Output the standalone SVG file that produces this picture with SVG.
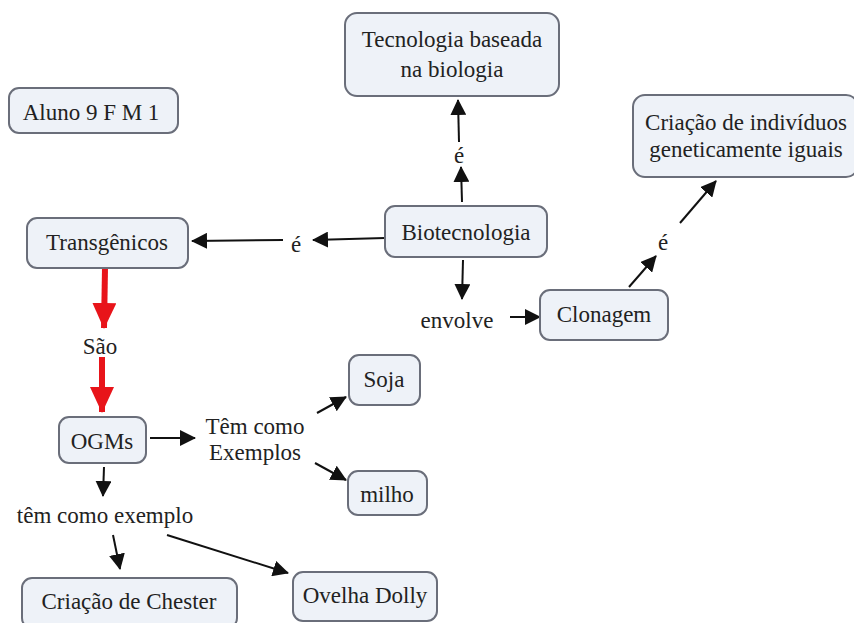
<svg xmlns="http://www.w3.org/2000/svg" width="854" height="623" viewBox="0 0 854 623">
<defs>
<style>
.box{fill:#eef2f8;stroke:#6a6e7a;stroke-width:2}
.t{font-family:Liberation Serif, DejaVu Serif, serif;font-size:23px;fill:#222;text-anchor:middle}
.ln{stroke:#111;stroke-width:2;fill:none}
.red{stroke:#e8141a;stroke-width:6;fill:none}
</style>
<marker id="ahb" viewBox="0 0 16 16" refX="15" refY="8" markerWidth="16" markerHeight="16" orient="auto" markerUnits="userSpaceOnUse">
<path d="M0,0 L16,8 L0,16 z" fill="#111"/>
</marker>
<marker id="ahr" viewBox="0 0 26 24" refX="25" refY="12" markerWidth="26" markerHeight="24" orient="auto" markerUnits="userSpaceOnUse">
<path d="M0,0 L26,12 L0,24 z" fill="#e8141a"/>
</marker>
</defs>
<rect width="854" height="623" fill="#fff"/>

<g id="connectors">
<line class="ln" x1="385" y1="238" x2="313" y2="240" marker-end="url(#ahb)"/>
<line class="ln" x1="283" y1="240" x2="192" y2="241" marker-end="url(#ahb)"/>
<line class="ln" x1="462" y1="202" x2="461" y2="167" marker-end="url(#ahb)"/>
<line class="ln" x1="459" y1="142" x2="458" y2="100" marker-end="url(#ahb)"/>
<line class="ln" x1="463" y1="260" x2="462" y2="299" marker-end="url(#ahb)"/>
<line class="ln" x1="510" y1="317" x2="540" y2="317" marker-end="url(#ahb)"/>
<line class="ln" x1="629" y1="287" x2="656" y2="256" marker-end="url(#ahb)"/>
<line class="ln" x1="680" y1="223" x2="716" y2="181" marker-end="url(#ahb)"/>
<line class="red" x1="105" y1="268" x2="104" y2="328" marker-end="url(#ahr)"/>
<line class="red" x1="102" y1="357" x2="102" y2="412" marker-end="url(#ahr)"/>
<line class="ln" x1="150" y1="438" x2="195" y2="438" marker-end="url(#ahb)"/>
<line class="ln" x1="317" y1="413" x2="346" y2="397" marker-end="url(#ahb)"/>
<line class="ln" x1="315" y1="463" x2="346" y2="480" marker-end="url(#ahb)"/>
<line class="ln" x1="104" y1="467" x2="103" y2="496" marker-end="url(#ahb)"/>
<line class="ln" x1="113" y1="535" x2="120" y2="569" marker-end="url(#ahb)"/>
<line class="ln" x1="167" y1="535" x2="288" y2="573" marker-end="url(#ahb)"/>
</g>

<g id="labels">
<text class="t" x="296" y="252">é</text>
<text class="t" x="459" y="163">é</text>
<text class="t" x="457" y="328">envolve</text>
<text class="t" x="663" y="250">é</text>
<text class="t" x="100" y="354">São</text>
<text class="t" x="255" y="434">Têm como</text>
<text class="t" x="255" y="460">Exemplos</text>
<text class="t" x="105" y="523">têm como exemplo</text>
</g>

<g id="n-aluno"><rect class="box" x="9" y="88" width="169" height="45" rx="10"/><text class="t" x="91" y="120">Aluno 9 F M 1</text></g>
<g id="n-tecnologia"><rect class="box" x="345" y="13" width="214" height="83" rx="12"/><text class="t" x="452" y="47">Tecnologia baseada</text><text class="t" x="452" y="77">na biologia</text></g>
<g id="n-biotecnologia"><rect class="box" x="385" y="206" width="162" height="51" rx="10"/><text class="t" x="466" y="240">Biotecnologia</text></g>
<g id="n-transgenicos"><rect class="box" x="27" y="218" width="161" height="50" rx="10"/><text class="t" x="107" y="250">Transgênicos</text></g>
<g id="n-criacao-ind"><rect class="box" x="633" y="95" width="225" height="82" rx="12"/><text class="t" x="746" y="130">Criação de indivíduos</text><text class="t" x="746" y="157">geneticamente iguais</text></g>
<g id="n-clonagem"><rect class="box" x="540" y="290" width="128" height="50" rx="10"/><text class="t" x="604" y="322">Clonagem</text></g>
<g id="n-ogms"><rect class="box" x="59" y="417" width="87" height="46" rx="10"/><text class="t" x="102" y="449">OGMs</text></g>
<g id="n-soja"><rect class="box" x="349" y="355" width="71" height="50" rx="10"/><text class="t" x="384" y="387">Soja</text></g>
<g id="n-milho"><rect class="box" x="348" y="471" width="79" height="44" rx="10"/><text class="t" x="387" y="502">milho</text></g>
<g id="n-chester"><rect class="box" x="22" y="578" width="215" height="50" rx="10"/><text class="t" x="129" y="609">Criação de Chester</text></g>
<g id="n-dolly"><rect class="box" x="293" y="572" width="144" height="49" rx="10"/><text class="t" x="365" y="603">Ovelha Dolly</text></g>
</svg>
